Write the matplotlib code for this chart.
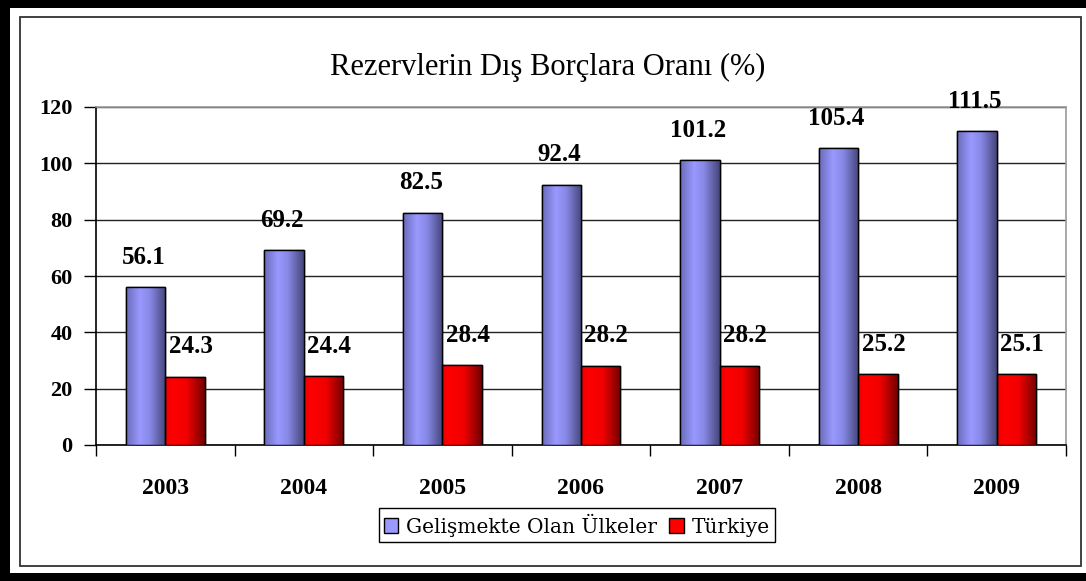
import numpy as np
import matplotlib
matplotlib.use("Agg")
import matplotlib.pyplot as plt
from matplotlib.patches import Rectangle
from matplotlib.colors import LinearSegmentedColormap

years = ["2003", "2004", "2005", "2006", "2007", "2008", "2009"]
gelismekte = [56.1, 69.2, 82.5, 92.4, 101.2, 105.4, 111.5]
turkiye = [24.3, 24.4, 28.4, 28.2, 28.2, 25.2, 25.1]
series_names = ["Gelişmekte Olan Ülkeler", "Türkiye"]
title = "Rezervlerin Dış Borçlara Oranı (%)"
yticks = [0, 20, 40, 60, 80, 100, 120]

W, H = 1086, 581
fig = plt.figure(figsize=(W / 100, H / 100), dpi=100)
fig.patch.set_facecolor("white")

# outer borders
def px_rect(x0, y0, x1, y1, **kw):
    fig.add_artist(Rectangle((x0 / W, 1 - y1 / H), (x1 - x0) / W, (y1 - y0) / H,
                             transform=fig.transFigure, **kw))

px_rect(0, 0, W, 8, facecolor="black", edgecolor="none")
px_rect(0, 0, 10, H, facecolor="black", edgecolor="none")
px_rect(0, 573, W, H, facecolor="black", edgecolor="none")
px_rect(20, 17, 1081, 566, facecolor="none", edgecolor="#333333", linewidth=1.3)

ax = fig.add_axes([96 / W, 1 - 445 / H, (1066 - 96) / W, (445 - 107) / H])

x = np.arange(len(years))
bw = 0.285
blue_cmap = LinearSegmentedColormap.from_list(
    "b", [(0, "#6a6ab8"), (0.35, "#9999ff"), (0.6, "#8888e6"), (1, "#45457a")])
red_cmap = LinearSegmentedColormap.from_list(
    "r", [(0, "#e80000"), (0.15, "#ff0000"), (0.55, "#f00000"), (1, "#700000")])

grad = np.linspace(0, 1, 256).reshape(1, -1)
serif = "Liberation Serif"

for vals, off, cmap, col, dx in [(gelismekte, -bw / 2, blue_cmap, "#9999ff", -1.5),
                                 (turkiye, bw / 2, red_cmap, "#ff0000", 4)]:
    bars = ax.bar(x + off, vals, width=bw, color=col, edgecolor="black",
                  linewidth=1.0, zorder=3)
    for b, v in zip(bars, vals):
        im = ax.imshow(grad, extent=[b.get_x(), b.get_x() + b.get_width(), 0, v],
                       aspect="auto", cmap=cmap, zorder=3.5, interpolation="bicubic")
        im.set_clip_path(b)
        ax.add_patch(Rectangle((b.get_x(), 0), b.get_width(), v, facecolor="none",
                               edgecolor="black", linewidth=1.0, zorder=4))
        ax.annotate(f"{v:.1f}", (b.get_x() + b.get_width() / 2, v),
                    xytext=(dx, 21.5), textcoords="offset points", ha="center",
                    va="center", fontsize=18, fontweight="bold", family=serif,
                    zorder=5)

ax.set_xlim(-0.5, len(years) - 0.5)
ax.set_ylim(0, 120)
ax.set_yticks(yticks)
ax.set_yticklabels([str(t) for t in yticks], fontsize=16, fontweight="bold", family=serif)
ax.yaxis.grid(True, color="#222222", linewidth=1.0, zorder=1)
ax.set_axisbelow(True)
ax.tick_params(axis="y", length=9, width=1, color="black", pad=8, direction="out")

# x ticks at category boundaries, labels at centers
ax.set_xticks(np.arange(len(years) + 1) - 0.5)
ax.set_xticklabels([])
ax.set_xticks(x, minor=True)
ax.set_xticklabels(years, minor=True, fontsize=17, fontweight="bold", family=serif)
ax.tick_params(axis="x", which="major", length=8, width=1, color="black", direction="out")
ax.tick_params(axis="x", which="minor", length=0, pad=24)

for s in ["top", "right"]:
    ax.spines[s].set_color("#9a9a9a")
    ax.spines[s].set_linewidth(1.2)
for s in ["left", "bottom"]:
    ax.spines[s].set_color("black")
    ax.spines[s].set_linewidth(1.2)

fig.text(548 / W, 1 - 67 / H, title, ha="center", va="center", fontsize=22, family=serif)

handles = [Rectangle((0, 0), 1, 1, facecolor="#9999ff", edgecolor="black", linewidth=1),
           Rectangle((0, 0), 1, 1, facecolor="#ff0000", edgecolor="black", linewidth=1)]
leg = fig.legend(handles, series_names, loc="center",
                 bbox_to_anchor=(577 / W, 1 - 525 / H), ncol=2, frameon=True,
                 fancybox=False, edgecolor="black", framealpha=1,
                 prop={"family": "DejaVu Serif", "size": 14.5},
                 handlelength=0.7, handleheight=0.7, handletextpad=0.4,
                 columnspacing=0.6, borderpad=0.25, borderaxespad=0)
leg.get_frame().set_linewidth(1.0)

fig.savefig("out.png", dpi=100, facecolor="white")
